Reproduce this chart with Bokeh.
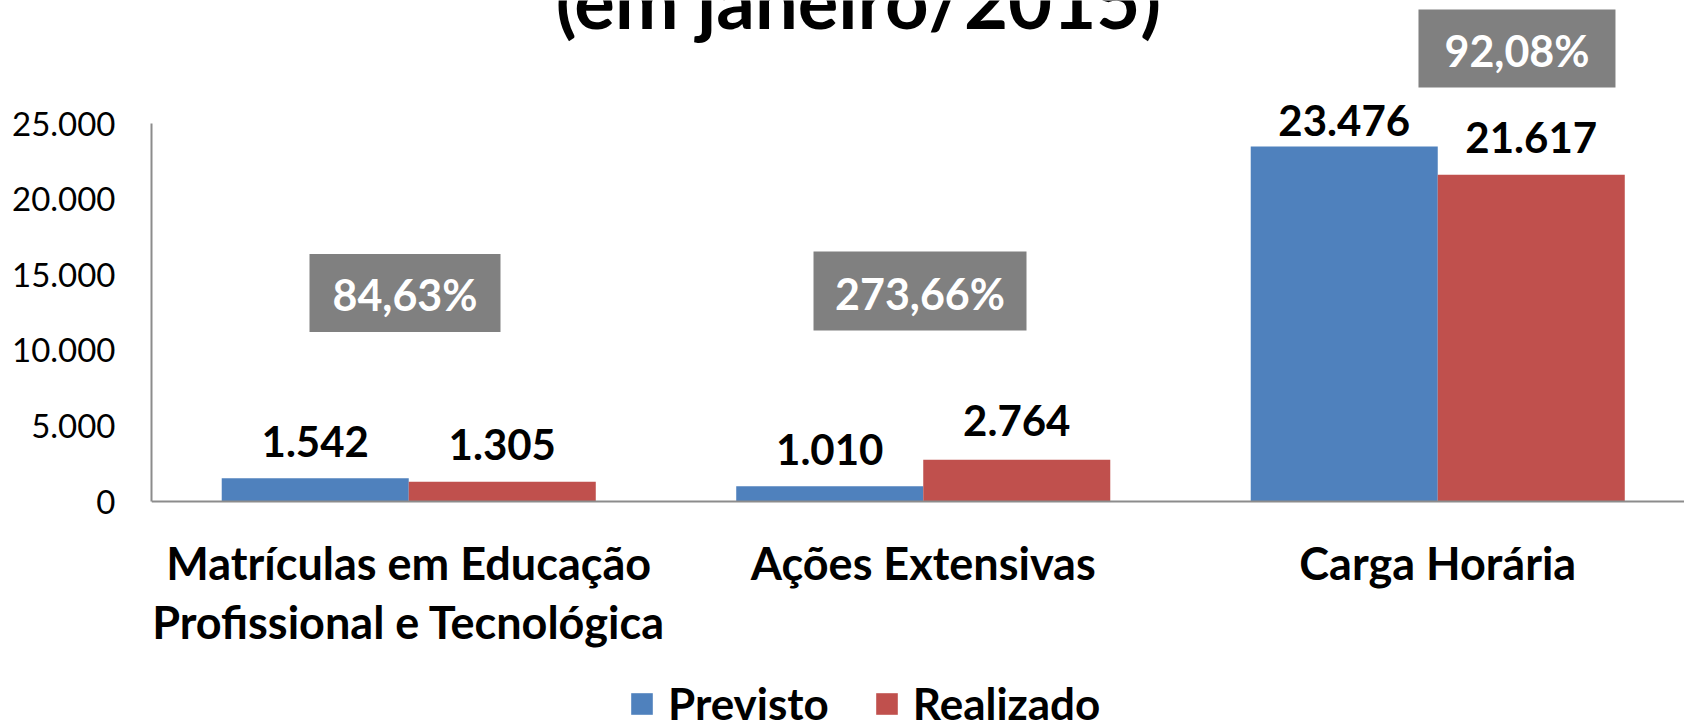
import numpy as np
from bokeh.plotting import figure
from bokeh.models import Range1d, FixedTicker, Legend, LegendItem, ColumnDataSource
from bokeh.core.properties import value
from bokeh.embed import file_html
from bokeh.resources import INLINE

# ---- data ----
categories = ["Matrículas em Educação\nProfissional e Tecnológica", "Ações Extensivas", "Carga Horária"]
previsto = [1542, 1010, 23476]
realizado = [1305, 2764, 21617]
percent_labels = ["84,63%", "273,66%", "92,08%"]
y_ticks = [0, 5000, 10000, 15000, 20000, 25000]
y_tick_labels = ["0", "5.000", "10.000", "15.000", "20.000", "25.000"]
series_names = ["Previsto", "Realizado"]
title_text = "(em janeiro/2015)"

# ---- styles / layout ----
BLUE = "#4F81BD"
RED = "#C0504D"
GRAY = "#808080"
AXIS = "#8C8C8C"
FONT = "Lato"
W, H = 1684, 721
BAR_W = 0.3635
prev_gap = [-37, -37, -26]
real_gap = [-37, -39, -37]
box_x = [0.9927, 1.9937, 3.154]
box_y = [13790, 13922, 29960]
box_w = [191, 213, 197]
box_h = [78, 79, 78]

def fmt(v):
    return f"{v:,}".replace(",", ".")

xs = np.arange(1, len(categories) + 1)

p = figure(width=W, height=H, output_backend="svg", toolbar_location=None,
           x_range=Range1d(0.5, 3.4796), y_range=Range1d(-14550, 33135),
           min_border_left=151, min_border_right=0, min_border_top=0,
           min_border_bottom=0)
p.outline_line_color = None
p.grid.visible = False
p.background_fill_color = "white"

src = ColumnDataSource(dict(
    x_prev=xs - BAR_W / 2, x_real=xs + BAR_W / 2,
    prev=previsto, real=realizado,
    prev_lbl=[fmt(v) for v in previsto], real_lbl=[fmt(v) for v in realizado],
    prev_gap=prev_gap, real_gap=real_gap,
))

r_prev = p.vbar(x="x_prev", top="prev", width=BAR_W, fill_color=BLUE, line_color=None, source=src)
r_real = p.vbar(x="x_real", top="real", width=BAR_W, fill_color=RED, line_color=None, source=src)

for xcol, ycol, tcol, gcol in [("x_prev", "prev", "prev_lbl", "prev_gap"), ("x_real", "real", "real_lbl", "real_gap")]:
    p.text(x=xcol, y=ycol, text=tcol, y_offset=gcol, source=src,
           text_align="center", text_baseline="alphabetic",
           text_font=value(FONT), text_font_style="bold", text_font_size="42px",
           text_color="black")

# percentage boxes
bsrc = ColumnDataSource(dict(x=box_x, y=box_y, w=box_w, h=box_h, t=percent_labels))
p.rect(x="x", y="y", width="w", height="h", width_units="screen", height_units="screen",
       fill_color=GRAY, line_color=None, source=bsrc)
p.text(x="x", y="y", text="t", y_offset=2, source=bsrc, text_align="center",
       text_baseline="alphabetic", text_font=value(FONT), text_font_style="bold",
       text_font_size="43px", text_color="white")

# title (partially cut at top)
p.text(x=[1.874], y=[31217], text=[title_text], y_offset=-30, text_align="center",
       text_baseline="alphabetic", text_font=value(FONT), text_font_style="bold",
       text_font_size="76px", text_color="black")

# axes
ya = p.yaxis[0]
ya.ticker = FixedTicker(ticks=y_ticks)
ya.major_label_overrides = {t: l for t, l in zip(y_ticks, y_tick_labels)}
ya.bounds = (0, 25000)
ya.axis_line_color = AXIS
ya.axis_line_width = 2
ya.major_tick_line_color = None
ya.minor_tick_line_color = None
ya.major_tick_out = 0
ya.major_label_standoff = 36
ya.major_label_text_font = FONT
ya.major_label_text_font_size = "33px"
ya.major_label_text_color = "black"

xa = p.xaxis[0]
xa.fixed_location = 0
xa.ticker = FixedTicker(ticks=list(xs))
xa.major_label_overrides = {int(x): c for x, c in zip(xs, categories)}
xa.axis_line_color = AXIS
xa.axis_line_width = 2
xa.major_tick_line_color = None
xa.minor_tick_line_color = None
xa.major_tick_out = 0
xa.major_label_standoff = 34
xa.major_label_text_font = FONT
xa.major_label_text_font_style = "bold"
xa.major_label_text_font_size = "45px"
xa.major_label_text_color = "black"
xa.major_label_text_line_height = 1.1

legend = Legend(items=[LegendItem(label=series_names[0], renderers=[r_prev]),
                       LegendItem(label=series_names[1], renderers=[r_real])],
                orientation="horizontal", location=(477, -8),
                border_line_color=None, background_fill_alpha=0,
                padding=0, margin=0, spacing=44, label_standoff=13,
                glyph_width=27, glyph_height=27,
                label_text_font=FONT, label_text_font_style="bold",
                label_text_font_size="44px", label_text_color="black")
p.add_layout(legend)

open("out.html", "w").write(file_html(p, INLINE))
